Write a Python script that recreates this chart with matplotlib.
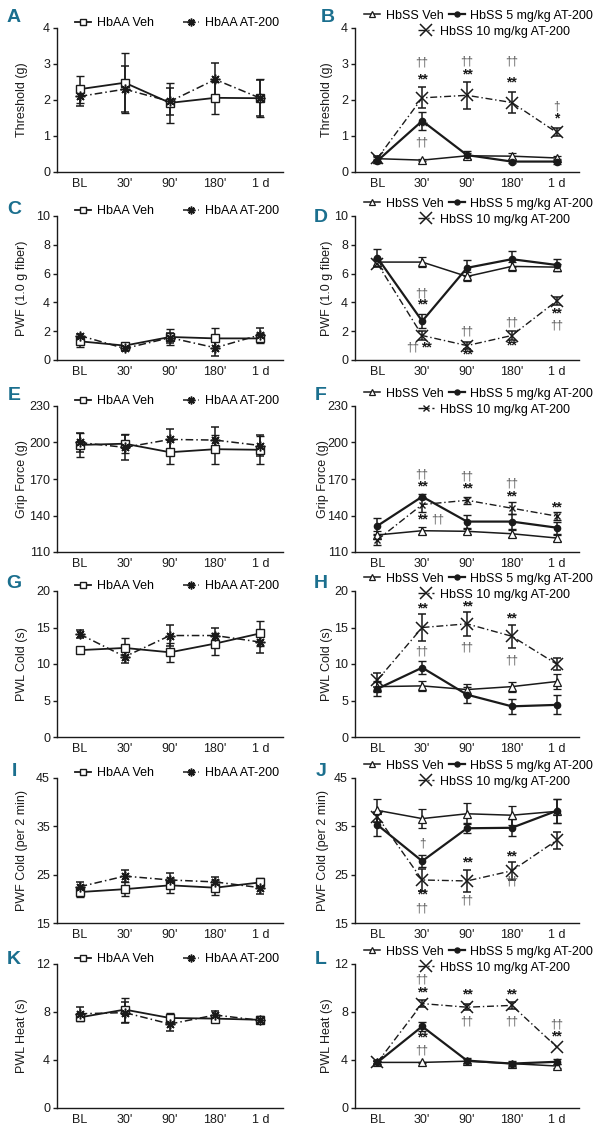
import numpy as np
import matplotlib
matplotlib.use('Agg')
import matplotlib.pyplot as plt
from matplotlib.lines import Line2D

plt.rcParams['font.family'] = ['Liberation Sans', 'DejaVu Sans']

# ---------------- data ----------------
timepoints = ['BL', "30'", "90'", "180'", '1 d']

# A: Threshold (g), HbAA
A_aa_veh = [2.30, 2.48, 1.92, 2.06, 2.05]
A_aa_veh_err = [0.38, 0.83, 0.56, 0.44, 0.52]
A_aa_at = [2.10, 2.30, 1.96, 2.57, 2.05]
A_aa_at_err = [0.26, 0.64, 0.38, 0.47, 0.50]

# B: Threshold (g), HbSS
B_ss_veh = [0.37, 0.33, 0.45, 0.44, 0.39]
B_ss_veh_err = [0.06, 0.03, 0.08, 0.08, 0.05]
B_ss_5 = [0.31, 1.42, 0.47, 0.29, 0.29]
B_ss_5_err = [0.05, 0.25, 0.12, 0.05, 0.08]
B_ss_10 = [0.38, 2.06, 2.13, 1.93, 1.10]
B_ss_10_err = [0.07, 0.29, 0.38, 0.30, 0.11]

# C: PWF (1.0 g fiber), HbAA
C_aa_veh = [1.30, 1.00, 1.60, 1.50, 1.50]
C_aa_veh_err = [0.40, 0.12, 0.55, 0.70, 0.35]
C_aa_at = [1.70, 0.80, 1.55, 0.85, 1.75]
C_aa_at_err = [0.12, 0.18, 0.35, 0.55, 0.50]

# D: PWF (1.0 g fiber), HbSS
D_ss_veh = [6.80, 6.80, 5.80, 6.50, 6.45]
D_ss_veh_err = [0.30, 0.35, 0.30, 0.30, 0.25]
D_ss_5 = [7.10, 2.70, 6.40, 7.00, 6.60]
D_ss_5_err = [0.60, 0.50, 0.55, 0.55, 0.40]
D_ss_10 = [6.70, 1.70, 1.00, 1.70, 4.10]
D_ss_10_err = [0.25, 0.30, 0.25, 0.30, 0.30]

# E: Grip Force (g), HbAA
E_aa_veh = [198.0, 199.0, 192.0, 194.5, 194.0]
E_aa_veh_err = [10.0, 8.0, 10.0, 12.0, 11.5]
E_aa_at = [200.0, 196.0, 202.5, 202.0, 197.5]
E_aa_at_err = [8.0, 10.0, 9.0, 11.0, 9.0]

# F: Grip Force (g), HbSS
F_ss_veh = [124.0, 127.5, 127.0, 125.0, 121.5]
F_ss_veh_err = [3.0, 3.0, 2.0, 3.0, 2.5]
F_ss_5 = [131.5, 155.5, 135.0, 135.0, 130.0]
F_ss_5_err = [6.5, 2.0, 5.5, 6.0, 5.0]
F_ss_10 = [120.0, 149.0, 152.5, 146.0, 139.5]
F_ss_10_err = [4.0, 6.0, 3.0, 5.0, 3.0]

# G: PWL Cold (s), HbAA
G_aa_veh = [11.9, 12.2, 11.6, 12.8, 14.2]
G_aa_veh_err = [0.3, 1.3, 1.3, 1.5, 1.7]
G_aa_at = [14.1, 11.0, 13.9, 13.9, 13.0]
G_aa_at_err = [0.6, 0.8, 1.5, 1.0, 1.5]

# H: PWL Cold (s), HbSS
H_ss_veh = [6.9, 7.0, 6.5, 6.9, 7.6]
H_ss_veh_err = [0.8, 0.7, 0.8, 0.7, 1.0]
H_ss_5 = [6.6, 9.5, 5.8, 4.2, 4.4]
H_ss_5_err = [1.0, 0.9, 1.1, 1.0, 1.3]
H_ss_10 = [7.8, 15.0, 15.5, 13.8, 10.0]
H_ss_10_err = [1.0, 1.8, 1.6, 1.6, 0.8]

# I: PWF Cold (per 2 min), HbAA
I_aa_veh = [21.4, 22.0, 22.8, 22.3, 23.4]
I_aa_veh_err = [1.0, 1.5, 1.5, 1.6, 1.0]
I_aa_at = [22.5, 24.7, 23.9, 23.5, 22.3]
I_aa_at_err = [1.0, 1.2, 1.5, 1.1, 1.2]

# J: PWF Cold (per 2 min), HbSS
J_ss_veh = [38.3, 36.6, 37.6, 37.3, 38.1]
J_ss_veh_err = [2.3, 2.0, 2.2, 2.0, 2.5]
J_ss_5 = [35.3, 27.8, 34.6, 34.7, 38.2]
J_ss_5_err = [2.4, 1.3, 1.0, 1.8, 2.5]
J_ss_10 = [37.0, 23.9, 23.7, 25.8, 32.1]
J_ss_10_err = [1.0, 2.3, 2.3, 1.8, 1.7]

# K: PWL Heat (s), HbAA
K_aa_veh = [7.55, 8.20, 7.50, 7.45, 7.35]
K_aa_veh_err = [0.30, 1.00, 0.40, 0.30, 0.30]
K_aa_at = [7.85, 7.95, 7.00, 7.75, 7.30]
K_aa_at_err = [0.60, 0.90, 0.60, 0.30, 0.20]

# L: PWL Heat (s), HbSS
L_ss_veh = [3.80, 3.80, 3.90, 3.70, 3.50]
L_ss_veh_err = [0.10, 0.05, 0.15, 0.15, 0.20]
L_ss_5 = [3.80, 6.80, 3.95, 3.70, 3.85]
L_ss_5_err = [0.10, 0.40, 0.20, 0.20, 0.20]
L_ss_10 = [3.80, 8.70, 8.40, 8.55, 5.10]
L_ss_10_err = [0.10, 0.30, 0.25, 0.30, np.nan]

# significance marks: (time index, y, text)
B_marks = [(1, 3.05, '††'), (1, 2.56, '**'), (1, 1.27, '**'), (1, 0.81, '††'),
           (2, 3.08, '††'), (2, 2.72, '**'), (3, 3.06, '††'), (3, 2.48, '**'),
           (4, 1.82, '†'), (4, 1.48, '*')]
D_marks = [(1, 4.6, '††'), (1, 3.85, '**'), (0.79, 0.9, '††'), (1.1, 0.9, '**'),
           (2, 1.95, '††'), (2, 0.35, '**'), (3, 2.6, '††'), (3, 1.0, '**'),
           (4, 3.25, '**'), (4, 2.42, '††')]
F_marks = [(1, 174.0, '††'), (1, 163.5, '**'), (1, 137.0, '**'), (1.35, 137.0, '††'),
           (2, 172.0, '††'), (2, 162.0, '**'), (3, 166.0, '††'), (3, 155.5, '**'),
           (4, 147.0, '**')]
H_marks = [(1, 17.6, '**'), (1, 11.7, '††'), (2, 17.9, '**'), (2, 12.2, '††'),
           (3, 16.3, '**'), (3, 10.5, '††')]
J_marks = [(1, 31.4, '†'), (1, 20.8, '**'), (1, 18.0, '††'), (2, 27.6, '**'),
           (2, 19.7, '††'), (3, 28.8, '**'), (3, 23.6, '††')]
L_marks = [(1, 10.7, '††'), (1, 9.6, '**'), (1, 5.85, '**'), (1, 4.8, '††'),
           (2, 9.45, '**'), (2, 7.2, '††'), (3, 9.5, '**'), (3, 7.2, '††'),
           (4, 6.95, '††'), (4, 5.95, '**')]

# ---------------- styles ----------------
INK = '#1a1a1a'
DASHDOT = (0, (5, 2, 1, 2))
teal = '#1b6f8e'

style_aa_veh = dict(marker='s', ms=5.5, mfc='white', mec=INK, mew=1.0, ls='-', lw=1.3)
style_aa_at = dict(marker=(8, 2, 0), ms=7, mfc=INK, mec=INK, mew=1.1, ls=DASHDOT, lw=1.1)
style_ss_veh = dict(marker='^', ms=5.5, mfc='white', mec=INK, mew=0.9, ls='-', lw=1.1)
style_ss_5 = dict(marker='o', ms=4.5, mfc=INK, mec=INK, mew=1.0, ls='-', lw=1.6)
style_ss_10 = dict(marker='x', ms=9, mfc=INK, mec=INK, mew=1.1, ls=DASHDOT, lw=1.0)

x = np.arange(len(timepoints))

fig = plt.figure(figsize=(5.96, 11.32), dpi=100)
W, H = 596.0, 1132.0

row_top = [28, 216, 406, 591, 778, 964]
row_bot = [172, 360, 552, 737, 923, 1108]


def make_ax(col, row):
    if col == 0:
        left, width = 57, 226
    else:
        left, width = 355, 224
    top, bot = row_top[row], row_bot[row]
    return fig.add_axes([left / W, 1 - bot / H, width / W, (bot - top) / H])


def series(ax, y, e, st):
    ax.errorbar(x, y, yerr=e, color=INK, ecolor=INK, elinewidth=1.1,
                capsize=3.2, capthick=1.1, zorder=3, **st)


def finish(ax, ylim, yticks, ylabel, label_x):
    ax.set_xlim(-0.5, 4.5)
    ax.set_ylim(*ylim)
    ax.set_yticks(yticks)
    ax.set_xticks(x)
    ax.set_xticklabels(timepoints)
    for s in ['top', 'right']:
        ax.spines[s].set_visible(False)
    for s in ['left', 'bottom']:
        ax.spines[s].set_linewidth(1.0)
        ax.spines[s].set_color(INK)
    ax.tick_params(axis='y', direction='out', length=3, width=1.0, pad=2, labelsize=9, colors=INK)
    ax.tick_params(axis='x', length=0, pad=4, labelsize=9, colors=INK)
    ax.set_ylabel(ylabel, fontsize=9, color=INK)
    ax.yaxis.set_label_coords(label_x, 0.5)


def proxy(st):
    return Line2D([], [], color=INK, **st)


def legend_aa(ax):
    ax.legend([proxy(style_aa_veh), proxy(style_aa_at)], ['HbAA Veh', 'HbAA AT-200'],
              loc='center left', bbox_to_anchor=(0.08, 1.035), ncol=2, frameon=False,
              fontsize=9, handlelength=1.3, handletextpad=0.45, columnspacing=2.3,
              borderpad=0, borderaxespad=0, markerscale=0.8)


def legend_ss(ax, st10):
    leg1 = ax.legend([proxy(style_ss_veh), proxy(style_ss_5)],
                     ['HbSS Veh', 'HbSS 5 mg/kg AT-200'],
                     loc='center left', bbox_to_anchor=(0.04, 1.085), ncol=2, frameon=False,
                     fontsize=9, handlelength=1.3, handletextpad=0.45, columnspacing=0.4,
                     borderpad=0, borderaxespad=0, markerscale=0.8)
    ax.add_artist(leg1)
    ax.legend([proxy(st10)], ['HbSS 10 mg/kg AT-200'],
              loc='center left', bbox_to_anchor=(0.28, 0.975), frameon=False,
              fontsize=9, handlelength=1.3, handletextpad=0.45,
              borderpad=0, borderaxespad=0, markerscale=0.9)


def marks(ax, mlist):
    for xi, yv, t in mlist:
        if '*' in t:
            ax.text(xi, yv, t, ha='center', va='center', fontsize=10,
                    fontweight='bold', color=INK, zorder=5)
        else:
            ax.text(xi, yv, t, ha='center', va='center', fontsize=8.5,
                    color='#555555', zorder=5)


def letter(px, py, t):
    fig.text(px / W, 1 - py / H, t, ha='center', va='center', fontsize=14,
             fontweight='bold', color=teal,
             family=['Liberation Sans Narrow', 'Liberation Sans', 'DejaVu Sans'])


# ---------------- panels ----------------
aa_panels = [
    (0, A_aa_veh, A_aa_veh_err, A_aa_at, A_aa_at_err, (0, 4), [0, 1, 2, 3, 4], 'Threshold (g)', 'A'),
    (1, C_aa_veh, C_aa_veh_err, C_aa_at, C_aa_at_err, (0, 10), [0, 2, 4, 6, 8, 10], 'PWF (1.0 g fiber)', 'C'),
    (2, E_aa_veh, E_aa_veh_err, E_aa_at, E_aa_at_err, (110, 230), [110, 140, 170, 200, 230], 'Grip Force (g)', 'E'),
    (3, G_aa_veh, G_aa_veh_err, G_aa_at, G_aa_at_err, (0, 20), [0, 5, 10, 15, 20], 'PWL Cold (s)', 'G'),
    (4, I_aa_veh, I_aa_veh_err, I_aa_at, I_aa_at_err, (15, 45), [15, 25, 35, 45], 'PWF Cold (per 2 min)', 'I'),
    (5, K_aa_veh, K_aa_veh_err, K_aa_at, K_aa_at_err, (0, 12), [0, 4, 8, 12], 'PWL Heat (s)', 'K'),
]

ss_panels = [
    (0, B_ss_veh, B_ss_veh_err, B_ss_5, B_ss_5_err, B_ss_10, B_ss_10_err, (0, 4), [0, 1, 2, 3, 4], 'Threshold (g)', 'B', B_marks),
    (1, D_ss_veh, D_ss_veh_err, D_ss_5, D_ss_5_err, D_ss_10, D_ss_10_err, (0, 10), [0, 2, 4, 6, 8, 10], 'PWF (1.0 g fiber)', 'D', D_marks),
    (2, F_ss_veh, F_ss_veh_err, F_ss_5, F_ss_5_err, F_ss_10, F_ss_10_err, (110, 230), [110, 140, 170, 200, 230], 'Grip Force (g)', 'F', F_marks),
    (3, H_ss_veh, H_ss_veh_err, H_ss_5, H_ss_5_err, H_ss_10, H_ss_10_err, (0, 20), [0, 5, 10, 15, 20], 'PWL Cold (s)', 'H', H_marks),
    (4, J_ss_veh, J_ss_veh_err, J_ss_5, J_ss_5_err, J_ss_10, J_ss_10_err, (15, 45), [15, 25, 35, 45], 'PWF Cold (per 2 min)', 'J', J_marks),
    (5, L_ss_veh, L_ss_veh_err, L_ss_5, L_ss_5_err, L_ss_10, L_ss_10_err, (0, 12), [0, 4, 8, 12], 'PWL Heat (s)', 'L', L_marks),
]

left_letter_y = [18, 210, 395, 583, 772, 960]
right_letter = [(328, 17), (321, 217), (321, 395), (321, 583), (321, 771), (321, 960)]

for row, veh, veh_e, at, at_e, ylim, yt, lab, let in aa_panels:
    ax = make_ax(0, row)
    series(ax, veh, veh_e, style_aa_veh)
    series(ax, at, at_e, style_aa_at)
    finish(ax, ylim, yt, lab, -0.13)
    legend_aa(ax)
    letter(14, left_letter_y[row], let)

for row, veh, veh_e, s5, s5_e, s10, s10_e, ylim, yt, lab, let, mk in ss_panels:
    ax = make_ax(1, row)
    st10 = dict(style_ss_10)
    if let == 'F':
        st10.update(ms=5, mew=1.0)
    series(ax, veh, veh_e, style_ss_veh)
    series(ax, s5, s5_e, style_ss_5)
    series(ax, s10, s10_e, st10)
    lx = -0.115 if let in ('F', 'J') else -0.098
    finish(ax, ylim, yt, lab, lx)
    legend_ss(ax, st10)
    marks(ax, mk)
    px, py = right_letter[row]
    letter(px, py, let)

fig.savefig('out.png', dpi=100)
